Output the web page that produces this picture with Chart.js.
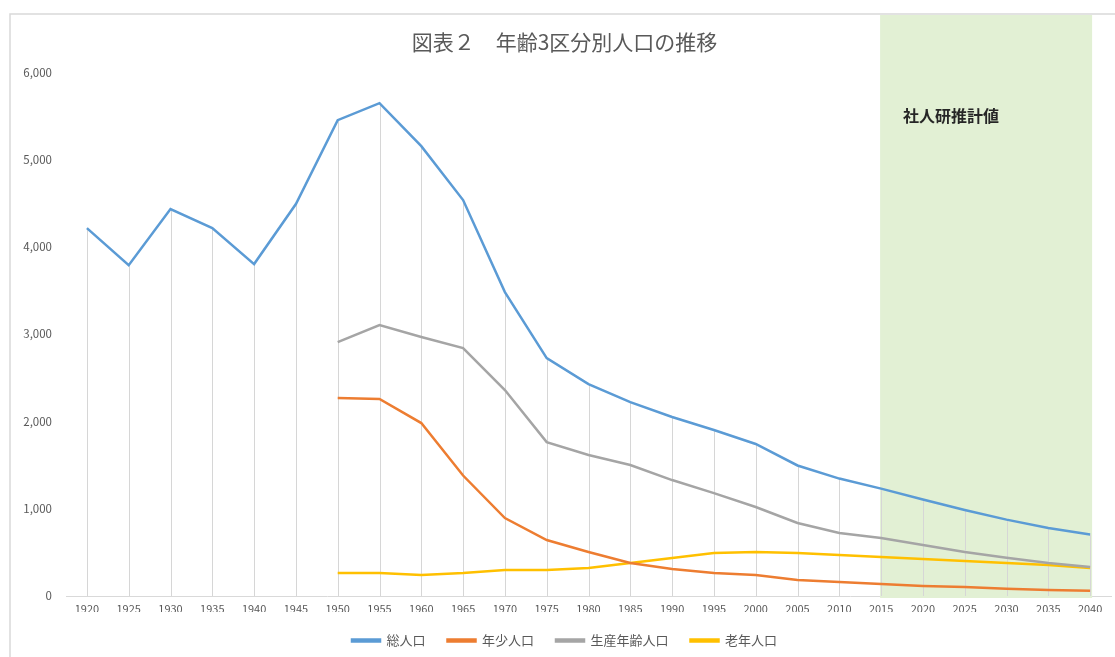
<!DOCTYPE html>
<html lang="ja">
<head>
<meta charset="utf-8">
<title>図表２　年齢3区分別人口の推移</title>
<script src="https://cdn.jsdelivr.net/npm/chart.js@4.4.1/dist/chart.umd.min.js"></script>
<style>
  html, body { margin: 0; padding: 0; background: #ffffff; }
  #wrap { position: relative; width: 1115px; height: 657px; }
  canvas { display: block; }
</style>
</head>
<body>
<div id="wrap"><canvas id="chart" width="1115" height="657"></canvas></div>
<script>
// 年次（5年ごと）
const years = ['1920','1925','1930','1935','1940','1945','1950','1955','1960','1965','1970','1975','1980','1985','1990','1995','2000','2005','2010','2015','2020','2025','2030','2035','2040'];

// 総人口
const totalPop = [4214, 3790, 4432, 4214, 3802, 4490, 5450, 5645, 5153, 4535, 3481, 2725, 2428, 2221, 2050, 1901, 1741, 1495, 1345, 1230, 1105, 985, 875, 779, 705];
// 年少人口（0〜14歳）
const youngPop = [null, null, null, null, null, null, 2267, 2258, 1981, 1380, 893, 641, 504, 378, 309, 263, 240, 183, 160, 137, 115, 103, 82, 69, 60];
// 生産年齢人口（15〜64歳）
const workingPop = [null, null, null, null, null, null, 2908, 3103, 2966, 2840, 2359, 1763, 1615, 1500, 1328, 1179, 1019, 836, 721, 664, 584, 504, 437, 378, 332];
// 老年人口（65歳以上）
const elderlyPop = [null, null, null, null, null, null, 263, 263, 240, 263, 298, 298, 320, 378, 435, 492, 504, 492, 470, 447, 424, 401, 378, 355, 321];

// 推計期間
const projectionStart = '2015';
const projectionEnd = '2040';
const projectionLabel = '社人研推計値';

const FONT = '"Noto Sans CJK JP", "Noto Sans", sans-serif';

// 外枠
const framePlugin = {
  id: 'frame',
  beforeDraw(chart) {
    const ctx = chart.ctx;
    ctx.save();
    ctx.strokeStyle = '#d9d9d9';
    ctx.lineWidth = 1.5;
    ctx.beginPath();
    ctx.moveTo(10, chart.height);
    ctx.lineTo(10, 14);
    ctx.lineTo(chart.width, 14);
    ctx.stroke();
    ctx.restore();
  }
};

// 推計期間の背景
const projectionPlugin = {
  id: 'projection',
  beforeDatasetsDraw(chart) {
    const { ctx, scales: { x, y } } = chart;
    const i0 = years.indexOf(projectionStart);
    const i1 = years.indexOf(projectionEnd);
    const left = x.getPixelForValue(i0) - 1;
    const right = x.getPixelForValue(i1) + 2;
    ctx.save();
    ctx.fillStyle = '#e2f0d4';
    ctx.fillRect(left, 15, right - left, y.bottom + 2 - 15);
    ctx.fillStyle = '#262626';
    ctx.font = 'bold 16px ' + FONT;
    ctx.textBaseline = 'middle';
    ctx.fillText(projectionLabel, left + 23, y.getPixelForValue(5500));
    ctx.restore();
  }
};

// 降下線（各年の最大値から横軸まで）
const dropLinePlugin = {
  id: 'dropLines',
  beforeDatasetsDraw(chart) {
    const { ctx, scales: { x, y } } = chart;
    ctx.save();
    ctx.strokeStyle = '#d6d6d6';
    ctx.lineWidth = 1;
    years.forEach((yr, i) => {
      const vals = [totalPop[i], youngPop[i], workingPop[i], elderlyPop[i]].filter(v => v !== null);
      const top = Math.max(...vals);
      const px = Math.round(x.getPixelForValue(i)) + 0.5;
      ctx.beginPath();
      ctx.moveTo(px, y.getPixelForValue(top));
      ctx.lineTo(px, y.getPixelForValue(0));
      ctx.stroke();
    });
    ctx.restore();
  }
};

function lineSet(label, data, color) {
  return {
    label, data,
    borderColor: color,
    backgroundColor: color,
    borderWidth: 2.5,
    pointRadius: 0,
    pointHoverRadius: 0,
    tension: 0,
    spanGaps: false,
    fill: false
  };
}

new Chart(document.getElementById('chart'), {
  type: 'line',
  data: {
    labels: years,
    datasets: [
      lineSet('総人口', totalPop, '#5b9bd5'),
      lineSet('年少人口', youngPop, '#ed7d31'),
      lineSet('生産年齢人口', workingPop, '#a5a5a5'),
      lineSet('老年人口', elderlyPop, '#ffc000')
    ]
  },
  options: {
    responsive: false,
    animation: false,
    layout: { padding: { left: 18, right: 4, top: 0, bottom: 0 } },
    plugins: {
      title: {
        display: true,
        text: '図表２　年齢3区分別人口の推移',
        color: '#595959',
        font: { family: FONT, size: 21, weight: 'normal' },
        padding: { top: 29, bottom: 18 }
      },
      legend: {
        position: 'bottom',
        labels: {
          color: '#595959',
          font: { family: FONT, size: 13 },
          boxWidth: 28,
          boxHeight: 2,
          padding: 22
        }
      },
      tooltip: { enabled: false }
    },
    scales: {
      x: {
        offset: true,
        grid: { display: false, drawTicks: false, tickLength: 0 },
        border: { display: true, color: '#d9d9d9', width: 1 },
        afterFit(scale) { scale.height = 16; },
        ticks: {
          color: '#595959',
          font: { family: FONT, size: 11 },
          maxRotation: 0,
          autoSkip: false,
          padding: 6
        }
      },
      y: {
        min: 0,
        max: 6000,
        grid: { display: false, drawTicks: false, tickLength: 0 },
        border: { display: false },
        afterFit(scale) { scale.width = 48; },
        ticks: {
          stepSize: 1000,
          color: '#595959',
          font: { family: FONT, size: 11.5 },
          padding: 14,
          callback: v => v.toLocaleString('en-US')
        }
      }
    }
  },
  plugins: [framePlugin, projectionPlugin, dropLinePlugin]
});
</script>
</body>
</html>
